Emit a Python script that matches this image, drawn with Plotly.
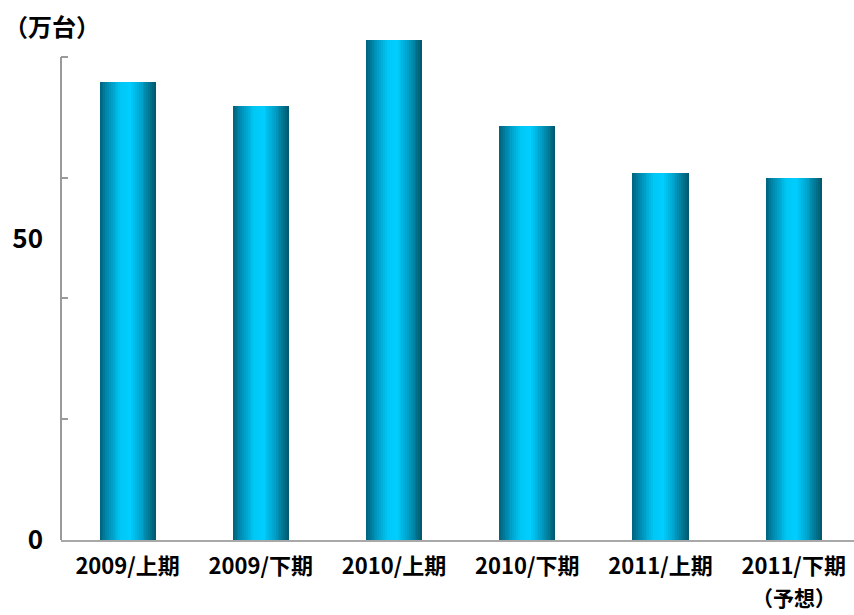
import plotly.graph_objects as go

categories = ["2009/上期", "2009/下期", "2010/上期", "2010/下期", "2011/上期", "2011/下期"]
category_notes = ["", "", "", "", "", "（予想）"]
values = [76.1, 72.1, 83.1, 68.8, 61.0, 60.1]
y_label_vals = [0, 50]
y_label_text = ["0", "50"]
unit_label = "（万台）"

# gradient stops across a bar (left -> right)
grad = [(0.0, (0, 98, 124)), (0.18, (0, 150, 190)), (0.38, (0, 200, 245)),
        (0.55, (0, 206, 255)), (0.75, (0, 160, 200)), (1.0, (0, 86, 106))]

def color_at(t):
    for (t0, c0), (t1, c1) in zip(grad[:-1], grad[1:]):
        if t0 <= t <= t1:
            f = (t - t0) / (t1 - t0)
            return "rgb(%d,%d,%d)" % tuple(round(a + (b - a) * f) for a, b in zip(c0, c1))
    return "rgb(%d,%d,%d)" % grad[-1][1]

x_idx = list(range(len(categories)))
bar_w = 0.42
N = 30
slice_w = bar_w / N

fig = go.Figure()
for i in range(N):
    t = (i + 0.5) / N
    fig.add_trace(go.Bar(
        x=x_idx, y=values,
        width=slice_w * 1.08,
        offset=-bar_w / 2 + i * slice_w,
        marker=dict(color=color_at(t), line=dict(width=0)),
        showlegend=False, hoverinfo="skip",
    ))

y_top = 80.23
tick_step = y_top / 4
font_fam = "Noto Sans CJK JP, Noto Sans, sans-serif"

# axis line on the left (from 0 to y_top)
fig.add_shape(type="line", xref="paper", yref="y", x0=0, x1=0, y0=0, y1=y_top,
              line=dict(color="#9a9a9a", width=2))

fig.add_annotation(text=unit_label, xref="paper", yref="paper", x=-0.074, y=1.0,
                   xanchor="left", yanchor="middle", showarrow=False,
                   font=dict(family=font_fam, size=24, color="black", weight="bold"),
                   yshift=5)

for xi, note in zip(x_idx, category_notes):
    if note:
        fig.add_annotation(text=note, xref="x", yref="paper", x=xi, y=0,
                           xanchor="center", yanchor="middle", showarrow=False,
                           font=dict(family=font_fam, size=21, color="black", weight="bold"),
                           yshift=-57)

fig.update_layout(
    width=854, height=615,
    margin=dict(l=61, r=0, t=30, b=75),
    plot_bgcolor="white", paper_bgcolor="white",
    barmode="overlay", bargap=0,
    xaxis=dict(
        range=[-0.5, 5.453],
        tickmode="array", tickvals=x_idx, ticktext=categories,
        showline=True, linecolor="#a8a8a8", linewidth=2,
        ticks="", showgrid=False, zeroline=False,
        ticklabelstandoff=6,
        tickfont=dict(family=font_fam, size=22, color="black", weight="bold"),
    ),
    yaxis=dict(
        range=[0, 84.7],
        tickmode="array", tickvals=[tick_step * k for k in range(5)],
        showticklabels=False, ticks="inside", ticklen=7, tickcolor="#9a9a9a", tickwidth=1.5,
        showgrid=False, zeroline=False, showline=False,
    ),
    yaxis2=dict(
        range=[0, 84.7], overlaying="y", side="left",
        tickmode="array", tickvals=y_label_vals, ticktext=y_label_text,
        ticks="", showgrid=False, zeroline=False, showline=False,
        ticklabelstandoff=17,
        tickfont=dict(family=font_fam, size=26, color="black", weight="bold"),
    ),
)
# dummy invisible trace to activate yaxis2
fig.add_trace(go.Scatter(x=[0], y=[0], yaxis="y2", mode="markers",
                         marker=dict(opacity=0), showlegend=False, hoverinfo="skip"))

fig.write_html("out.html")
